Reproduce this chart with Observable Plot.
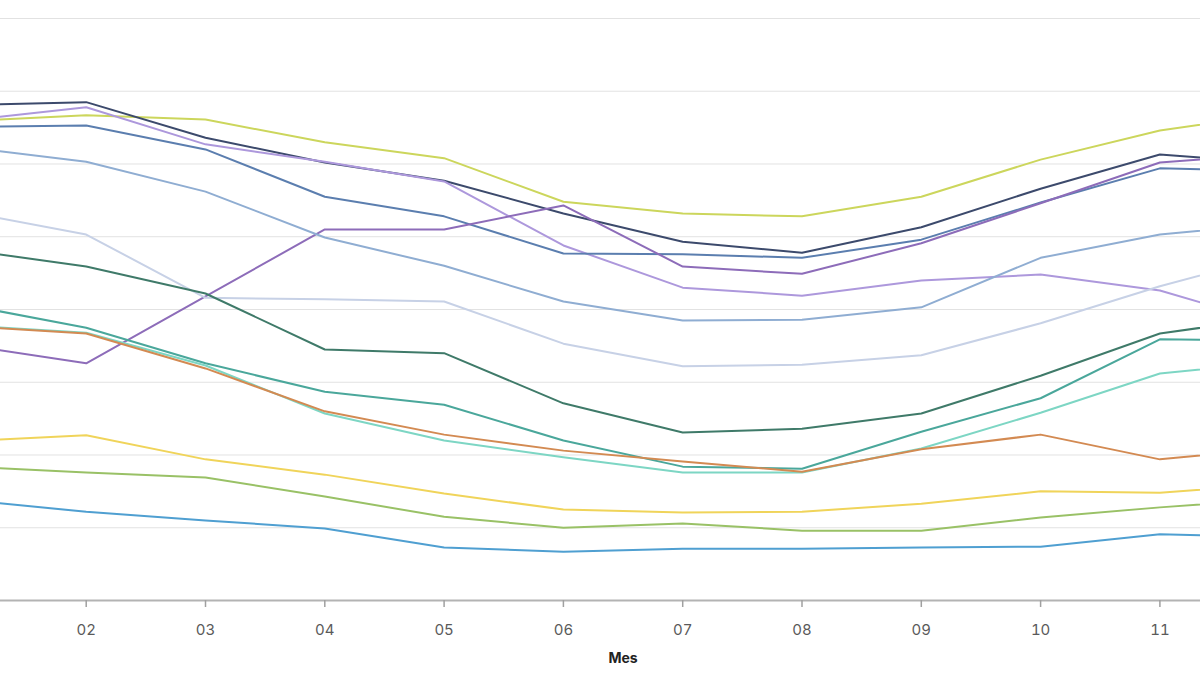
<!DOCTYPE html>
<html><head><meta charset="utf-8">
<script src="https://cdn.jsdelivr.net/npm/d3@7"></script>
<script src="https://cdn.jsdelivr.net/npm/@observablehq/plot@0.6"></script>
<style>html,body{margin:0;padding:0;background:#fff;overflow:hidden;}</style>
</head><body><div id="chart"></div>
<script>
const months = [1,2,3,4,5,6,7,8,9,10,11,12];
const seriesNames = ["S01","S02","S03","S04","S05","S06","S07","S08","S09","S10","S11","S12","S13","S14"];
const seriesColors = ["#ccd65c","#3c4a6c","#ad98dc","#5b7eaf","#8d6cb9","#8fadd2","#c7d1e6","#3f7a69","#4aa79b","#7dd6c4","#d38a52","#f0d45a","#99c166","#4f9fd1"];
const vS01 = [65.9,66.7,66.1,63.0,60.8,54.8,53.2,52.8,55.5,60.6,64.6,67.0];
const vS02 = [68.1,68.5,63.6,60.2,57.7,53.2,49.3,47.8,51.3,56.6,61.3,60.1];
const vS03 = [66.0,67.8,62.7,60.3,57.6,48.8,43.0,41.9,44.0,44.8,42.6,37.8];
const vS04 = [65.1,65.3,62.0,55.5,52.8,47.7,47.6,47.1,49.6,54.7,59.4,59.0];
const vS05 = [35.1,32.6,41.8,51.0,51.0,54.3,45.9,44.9,49.1,54.6,60.2,61.4];
const vS06 = [62.3,60.3,56.2,49.9,46.0,41.1,38.5,38.6,40.3,47.1,50.3,51.9];
const vS07 = [53.4,50.3,41.6,41.4,41.1,35.3,32.2,32.4,33.7,38.1,43.2,47.6];
const vS08 = [48.2,45.9,42.2,34.5,34.0,27.1,23.1,23.6,25.7,30.9,36.7,39.0];
const vS09 = [40.6,37.5,32.6,28.7,26.9,22.0,18.4,18.1,23.2,27.8,35.9,35.7];
const vS10 = [37.8,36.8,32.3,25.7,22.0,19.7,17.6,17.6,20.9,25.8,31.2,32.8];
const vS11 = [37.7,36.7,31.9,26.0,22.8,20.6,19.1,17.7,20.8,22.8,19.4,21.0];
const vS12 = [21.9,22.7,19.4,17.3,14.7,12.5,12.1,12.2,13.3,15.0,14.8,16.1];
const vS13 = [18.4,17.6,16.9,14.3,11.5,10.0,10.6,9.6,9.6,11.4,12.8,14.0];
const vS14 = [13.8,12.2,11.0,9.9,7.3,6.7,7.1,7.1,7.3,7.4,9.1,8.7];
const yTicks = [10,20,30,40,50,60,70,80];

const allValues = [vS01,vS02,vS03,vS04,vS05,vS06,vS07,vS08,vS09,vS10,vS11,vS12,vS13,vS14];
const data = [];
seriesNames.forEach((s, i) => months.forEach((m, j) => data.push({serie: s, mes: m, valor: allValues[i][j]})));

const xView = [1.2816, 11.3403];
const xTicks = months.filter(m => m >= xView[0] && m <= xView[1]);

const chart = Plot.plot({
  width: 1200, height: 675,
  marginTop: 0, marginBottom: 75, marginLeft: 0, marginRight: 0,
  style: {fontFamily: "Inter, 'Open Sans', sans-serif", fontSize: "14px", background: "#fff"},
  x: {domain: xView, axis: null},
  y: {domain: [0, 82.47], axis: null},
  color: {domain: seriesNames, range: seriesColors},
  marks: [
    Plot.gridY(yTicks, {stroke: "#e2e2e2", strokeOpacity: 1, strokeWidth: 1}),
    Plot.line(data, {x: "mes", y: "valor", z: "serie", stroke: "serie", strokeWidth: 2, clip: true}),
    Plot.ruleY([0], {stroke: "#b3b3b3", strokeWidth: 2}),
    Plot.axisX(xTicks, {tickFormat: d3.format("02d"), tickSize: 7, tickPadding: 17, stroke: "#a0a0a0", strokeWidth: 1.5, fill: "#5a5a5a", fontSize: 15, label: null}),
    Plot.text(["Mes"], {x: () => d3.mean(d3.extent(months)), frameAnchor: "bottom", dy: 62, fontWeight: "bold", fontSize: 14, fill: "#222"})
  ]
});
document.getElementById("chart").appendChild(chart);
</script>
</body></html>
